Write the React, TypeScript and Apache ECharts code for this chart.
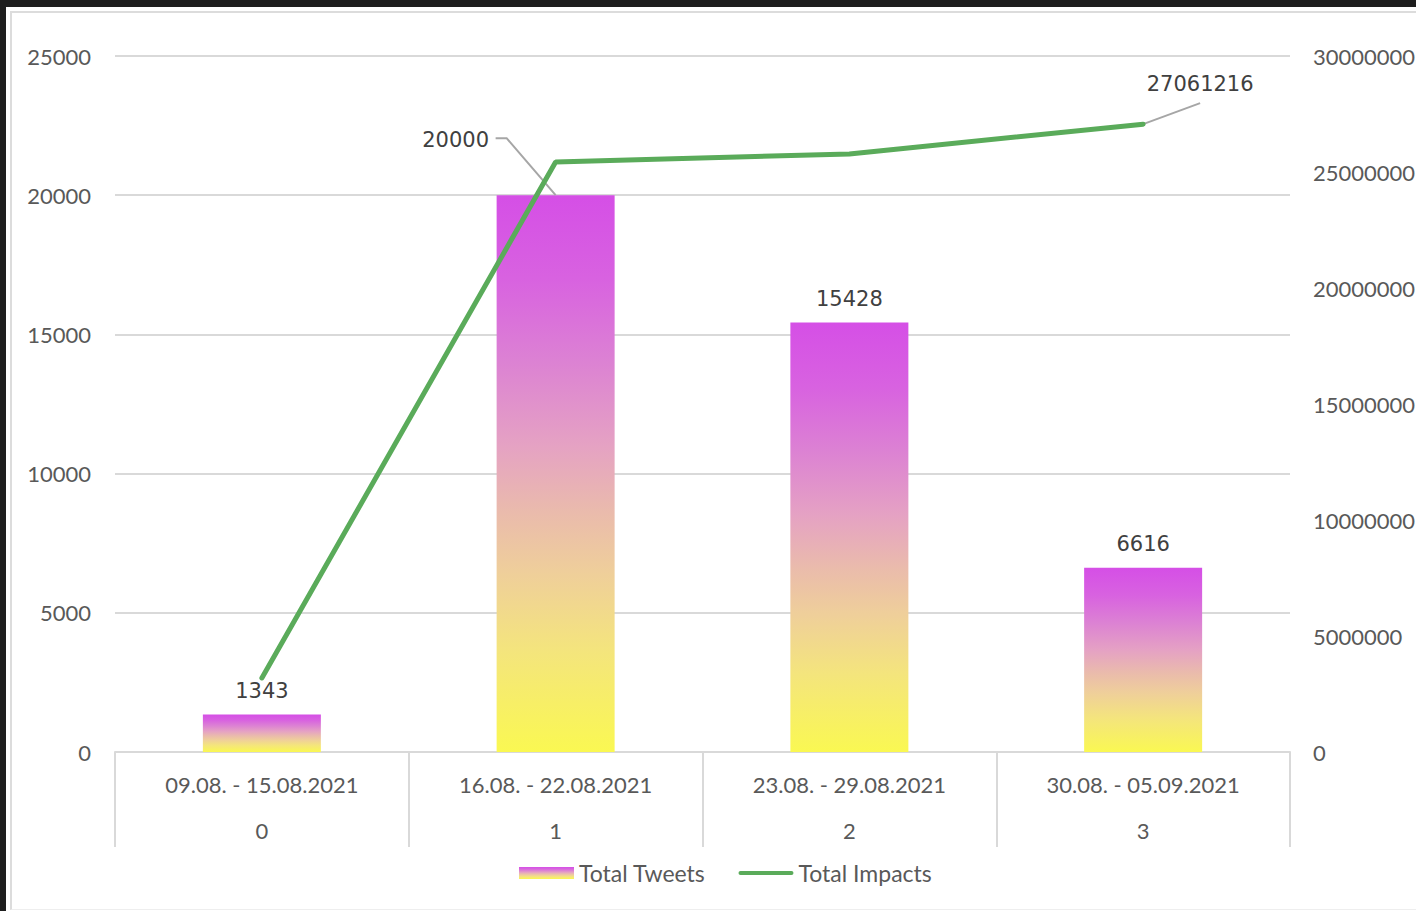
import React, { useEffect, useRef } from "react";
import * as echarts from "echarts";

const categories = ["09.08. - 15.08.2021", "16.08. - 22.08.2021", "23.08. - 29.08.2021", "30.08. - 05.09.2021"];
const categoryIndex = ["0", "1", "2", "3"];
const totalTweets = [1343, 20000, 15428, 6616];
const totalImpacts = [3190000, 25430000, 25780000, 27061216];

const AXIS_FONT = "Lato, 'Open Sans', sans-serif";
const LABEL_FONT = "'DejaVu Sans', 'Noto Sans', sans-serif";

export default function App() {
  const ref = useRef<HTMLDivElement>(null);

  useEffect(() => {
    if (!ref.current) return;
    const chart = echarts.init(ref.current, null, { renderer: "svg" });

    const barGradient = new echarts.graphic.LinearGradient(0, 0, 0, 1, [
      { offset: 0, color: "#d54fe6" },
      { offset: 0.15, color: "#d862e0" },
      { offset: 0.3, color: "#dc82d3" },
      { offset: 0.45, color: "#e5a2c3" },
      { offset: 0.57, color: "#eabbac" },
      { offset: 0.68, color: "#efcf9a" },
      { offset: 0.82, color: "#f4e57c" },
      { offset: 1, color: "#faf852" },
    ]);

    const lastIdx = totalImpacts.length - 1;

    chart.setOption({
      animation: false,
      backgroundColor: "transparent",
      grid: { left: 115, right: 126, top: 56, bottom: 159, outerBoundsMode: "none", containLabel: false },
      legend: {
        top: 861,
        left: 519,
        padding: 0,
        itemGap: 33,
        itemWidth: 55,
        itemHeight: 12,
        textStyle: { color: "#595959", fontSize: 23, lineHeight: 24, fontFamily: AXIS_FONT },
        data: [
          { name: "Total Tweets", icon: "rect" },
          {
            name: "Total Impacts",
            icon: "path://M2,0 L53,0 A2,2 0 0 1 53,4 L2,4 A2,2 0 0 1 2,0 Z",
            itemStyle: { color: "#5aab5a" },
          },
        ],
      },
      xAxis: {
        type: "category",
        data: categories,
        boundaryGap: true,
        axisLine: { show: true, lineStyle: { color: "#d9d9d9", width: 2 } },
        axisTick: { show: true, interval: 0, length: 95, lineStyle: { color: "#d9d9d9", width: 2 } },
        axisLabel: {
          interval: 0,
          margin: 9,
          formatter: (v: string, i: number) => `{a|${v}}\n{b|${categoryIndex[i]}}`,
          rich: {
            a: { fontSize: 22, lineHeight: 46, color: "#595959", fontFamily: AXIS_FONT },
            b: { fontSize: 22, lineHeight: 46, color: "#595959", fontFamily: AXIS_FONT },
          },
        },
      },
      yAxis: [
        {
          type: "value",
          min: 0,
          max: 25000,
          interval: 5000,
          axisLine: { show: false },
          axisTick: { show: false },
          splitLine: { lineStyle: { color: "#d9d9d9", width: 2 } },
          axisLabel: {
            margin: 24,
            color: "#595959",
            fontSize: 22,
            fontFamily: AXIS_FONT,
            formatter: (v: number) => String(v),
          },
        },
        {
          type: "value",
          min: 0,
          max: 30000000,
          interval: 5000000,
          axisLine: { show: false },
          axisTick: { show: false },
          splitLine: { show: false },
          axisLabel: {
            margin: 23,
            color: "#595959",
            fontSize: 22,
            fontFamily: AXIS_FONT,
            align: "left",
            formatter: (v: number) => String(v),
          },
        },
      ],
      series: [
        {
          name: "Total Tweets",
          type: "bar",
          yAxisIndex: 0,
          barWidth: 118,
          itemStyle: { color: barGradient },
          data: totalTweets,
          label: {
            show: true,
            position: "top",
            distance: 13,
            color: "#404040",
            fontSize: 21,
            fontFamily: LABEL_FONT,
          },
          labelLayout: (p: any) => {
            if (p.dataIndex !== 1) return {};
            const cx = p.rect.x + p.rect.width / 2;
            const top = p.rect.y;
            return { x: cx - 100, y: top - 55, align: "center", verticalAlign: "middle" };
          },
          z: 2,
        },
        {
          name: "Total Impacts",
          type: "line",
          yAxisIndex: 1,
          symbol: "circle",
          symbolSize: 0.1,
          showSymbol: true,
          itemStyle: { color: "#5aab5a" },
          lineStyle: { color: "#5aab5a", width: 5, cap: "round" },
          data: totalImpacts.map((v, i) =>
            i === lastIdx ? { value: v, label: { show: true } } : { value: v }
          ),
          label: {
            show: false,
            position: "top",
            distance: 8,
            color: "#404040",
            fontSize: 21,
            fontFamily: LABEL_FONT,
          },
          labelLayout: (p: any) => {
            if (p.dataIndex !== lastIdx) return {};
            const px = p.rect.x + p.rect.width / 2;
            const py = p.rect.y + p.rect.height / 2;
            return { x: px + 57, y: py - 40, align: "center", verticalAlign: "middle" };
          },
          z: 3,
        },
      ],
    });

    // Leader lines for the two moved data labels, anchored via the chart's own scales
    const [bx, by] = chart.convertToPixel({ seriesIndex: 0 }, [1, totalTweets[1]]) as number[];
    const [lx, ly] = chart.convertToPixel({ seriesIndex: 1 }, [lastIdx, totalImpacts[lastIdx]]) as number[];
    chart.setOption({
      graphic: [
        {
          type: "polyline",
          z: 2.5,
          silent: true,
          shape: { points: [[bx, by], [bx - 49, by - 57], [bx - 60, by - 57]] },
          style: { stroke: "#a6a6a6", lineWidth: 2, fill: "none" },
        },
        {
          type: "polyline",
          z: 2.5,
          silent: true,
          shape: { points: [[lx, ly], [lx + 57, ly - 21]] },
          style: { stroke: "#a6a6a6", lineWidth: 2, fill: "none" },
        },
      ],
    });

    return () => chart.dispose();
  }, []);

  return (
    <div style={{ position: "fixed", left: 0, top: 0, width: 1416, height: 911, background: "#1e1e1e", overflow: "hidden" }}>
      <div style={{ position: "absolute", left: 6, top: 7, width: 1410, height: 904, background: "#ffffff" }} />
      <div
        style={{
          position: "absolute",
          left: 10,
          top: 11,
          width: 1420,
          height: 896,
          borderLeft: "2px solid #dcdcdc",
          borderTop: "2px solid #dcdcdc",
          borderBottom: "1px solid #eeeeee",
        }}
      />
      <div ref={ref} style={{ position: "absolute", left: 0, top: 0, width: 1416, height: 911 }} />
    </div>
  );
}
